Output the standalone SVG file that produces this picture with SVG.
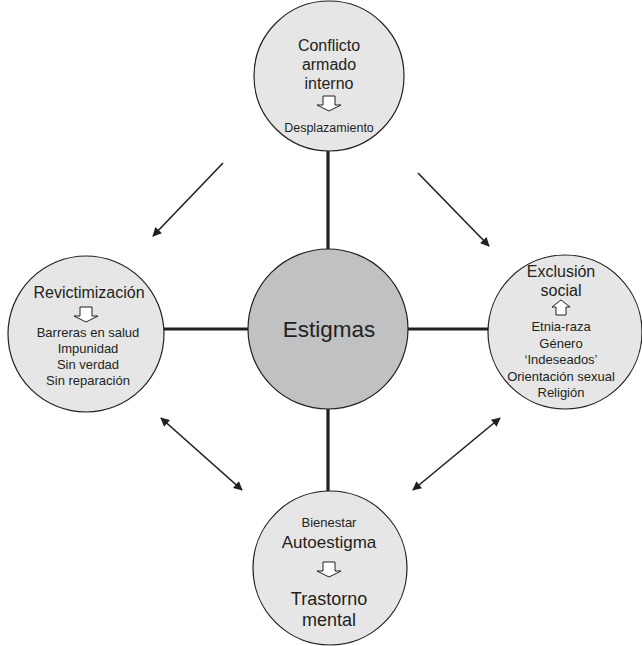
<svg xmlns="http://www.w3.org/2000/svg" width="642" height="646" viewBox="0 0 642 646">
<style>
text{font-family:"Liberation Sans",Arial,sans-serif;fill:#231f20;text-anchor:middle}
.node{fill:#e6e6e7;stroke:#231f20;stroke-width:1.2}
.hub{fill:#c0c1c3;stroke:#231f20;stroke-width:1.2}
.spoke{stroke:#231f20;stroke-width:3.2;fill:none}
.arr{stroke:#231f20;stroke-width:1.6;fill:none}
.t16{font-size:16px}.t13{font-size:13px}.t12{font-size:12.5px}
.blk{fill:#fff;stroke:#231f20;stroke-width:1}
</style>
<defs>
<marker id="ah" viewBox="0 0 10 10" refX="9" refY="5" markerWidth="10" markerHeight="9" orient="auto-start-reverse" markerUnits="userSpaceOnUse">
<path d="M0,0 L10,5 L0,10 Z" fill="#231f20"/>
</marker>
<path id="down" d="M-6,-8 H6 V1 H12 L0,7 L-12,1 H-6 Z"/>
</defs>
<g id="connectors">
<line class="spoke" x1="328" y1="150" x2="328" y2="249"/>
<line class="spoke" x1="328" y1="409" x2="328" y2="491"/>
<line class="spoke" x1="164" y1="329" x2="248" y2="329"/>
<line class="spoke" x1="408" y1="329" x2="488" y2="329"/>
<line class="arr" x1="223" y1="163" x2="153" y2="236" marker-end="url(#ah)"/>
<line class="arr" x1="418" y1="173" x2="489" y2="246" marker-end="url(#ah)"/>
<line class="arr" x1="161" y1="418" x2="242" y2="490" marker-start="url(#ah)" marker-end="url(#ah)"/>
<line class="arr" x1="500" y1="418" x2="413" y2="490" marker-start="url(#ah)" marker-end="url(#ah)"/>
</g>
<g id="estigmas">
<circle class="hub" cx="328" cy="329" r="80"/>
<text x="329" y="337" style="font-size:22.5px">Estigmas</text>
</g>
<g id="conflicto">
<circle class="node" cx="329" cy="76" r="75"/>
<text class="t16" x="329" y="51">Conflicto</text>
<text class="t16" x="329" y="70">armado</text>
<text class="t16" x="329" y="89">interno</text>
<use href="#down" class="blk" x="329" y="104"/>
<text class="t12" x="329" y="132">Desplazamiento</text>
</g>
<g id="revictimizacion">
<circle class="node" cx="86" cy="334" r="78"/>
<text class="t16" x="89" y="298">Revictimización</text>
<use href="#down" class="blk" x="86" y="315"/>
<text class="t13" x="88" y="337">Barreras en salud</text>
<text class="t13" x="88" y="353">Impunidad</text>
<text class="t13" x="88" y="369">Sin verdad</text>
<text class="t13" x="88" y="385">Sin reparación</text>
</g>
<g id="exclusion">
<circle class="node" cx="565" cy="332" r="77"/>
<text class="t16" x="561" y="277">Exclusión</text>
<text class="t16" x="561" y="296">social</text>
<path class="blk" d="M556,315 V307 H552 L561,300 L570,307 H566 V315 Z"/>
<text class="t13" x="561" y="331">Etnia-raza</text>
<text class="t13" x="561" y="348">Género</text>
<text class="t13" x="561" y="364">‘Indeseados’</text>
<text class="t13" x="561" y="381">Orientación sexual</text>
<text class="t13" x="561" y="397">Religión</text>
</g>
<g id="bienestar">
<circle class="node" cx="330" cy="568" r="77"/>
<text class="t13" x="329" y="527">Bienestar</text>
<text class="t16" x="329" y="548" style="font-size:17px">Autoestigma</text>
<use href="#down" class="blk" x="329" y="570"/>
<text x="329" y="605" style="font-size:18px">Trastorno</text>
<text x="329" y="626" style="font-size:18px">mental</text>
</g>
</svg>
